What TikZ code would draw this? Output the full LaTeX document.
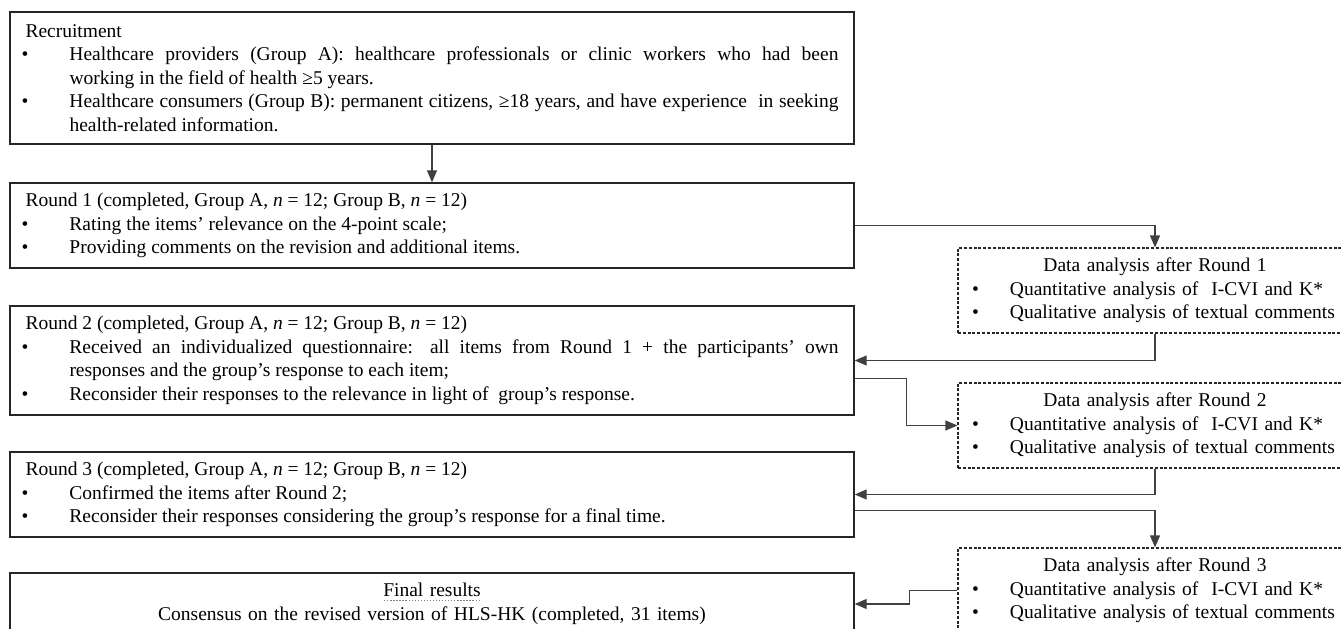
\documentclass[tikz,border=0pt]{standalone}
\usepackage{fontspec}
\setmainfont{Liberation Serif}
\usetikzlibrary{arrows.meta}

\newcommand{\bitem}{\par\noindent\hangindent=44pt\hangafter=1\hbox to 44pt{\kern-4pt\textbullet\hfil}}
\newcommand{\ditem}{\par\noindent\hangindent=38pt\hangafter=1\hbox to 38pt{\textbullet\hfil}}
\newcommand{\dhead}[1]{\noindent\hbox to \hsize{\hfil #1\hfil}}
\newcommand{\dotul}[1]{\setbox0=\hbox{#1}\leavevmode\rlap{\raisebox{-4pt}{\hbox to \wd0{\color{gray}\xleaders\hbox to 3pt{\hss\rule{1.3pt}{1.3pt}\hss}\hfil}}}\box0}

\begin{document}
\begin{tikzpicture}[
  x=1pt,y=-1pt,
  font=\fontsize{19.5}{23.5}\selectfont,
  stage/.style={draw=black!85,line width=1.4pt,inner xsep=15.5pt,inner ysep=0pt,text width=813pt,align=justify},
  analysis/.style={draw=black!85,line width=1.1pt,dash pattern=on 3pt off 1.8pt,inner xsep=14pt,inner ysep=0pt,text width=366pt,minimum height=85pt,align=left},
  to/.style={-{Triangle[length=12pt,width=10pt]},draw=black!75,line width=1.1pt}]

  % Fix the frame of the page
  \path[use as bounding box,clip] (0,0) rectangle (1341,629);

  % The rounds on the left
  \node[stage,minimum height=132pt] (rec) at (432,78) {\noindent Recruitment\bitem Healthcare providers (Group A): healthcare professionals or clinic workers who had been\linebreak working in the field of health ≥5 years.\bitem Healthcare consumers (Group B): permanent citizens, ≥18 years, and have experience \ in seeking\linebreak health-related information.\par};
  \node[stage,minimum height=85pt] (r1) at (432,225.5) {\noindent Round 1 (completed, Group A, \textit{n} = 12; Group B, \textit{n} = 12)\bitem Rating the items’ relevance on the 4-point scale;\bitem Providing comments on the revision and additional items.\par};
  \node[stage,minimum height=109pt] (r2) at (432,360.5) {\noindent Round 2 (completed, Group A, \textit{n} = 12; Group B, \textit{n} = 12)\bitem Received an individualized questionnaire: all items from Round 1 + the participants’ own\linebreak responses and the group’s response to each item;\bitem Reconsider their responses to the relevance in light of \ group’s response.\par};
  \node[stage,minimum height=85pt] (r3) at (432,494.5) {\noindent Round 3 (completed, Group A, \textit{n} = 12; Group B, \textit{n} = 12)\bitem Confirmed the items after Round 2;\bitem Reconsider their responses considering the group’s response for a final time.\par};
  \node[stage,minimum height=62pt,align=center] (fin) at (432,604) {\dotul{Final results}\\Consensus on the revised version of HLS-HK (completed, 31 items)};

  % The analyses on the right
  \node[analysis] (da1) at (1155,290.5) {\dhead{Data analysis after Round 1}\ditem Quantitative analysis of \ I-CVI and K*\ditem Qualitative analysis of textual comments\par};
  \node[analysis] (da2) at (1155,425.5) {\dhead{Data analysis after Round 2}\ditem Quantitative analysis of \ I-CVI and K*\ditem Qualitative analysis of textual comments\par};
  \node[analysis] (da3) at (1155,590.5) {\dhead{Data analysis after Round 3}\ditem Quantitative analysis of \ I-CVI and K*\ditem Qualitative analysis of textual comments\par};

  % Connect the steps
  \draw[to] (rec) -- (r1);
  \draw[to] (r1.east) -| (da1.north);
  \draw[to] (da1.south) |- (r2.east);
  \draw[to] ([yshift=-18pt]r2.east) -- ++(52,0) |- (da2.west);
  \draw[to] (da2.south) |- (r3.east);
  \draw[to] ([yshift=-16pt]r3.east) -| (da3.north);
  \draw[to] (da3.west) -- ++(-48,0) |- (fin.east);

\end{tikzpicture}
\end{document}
